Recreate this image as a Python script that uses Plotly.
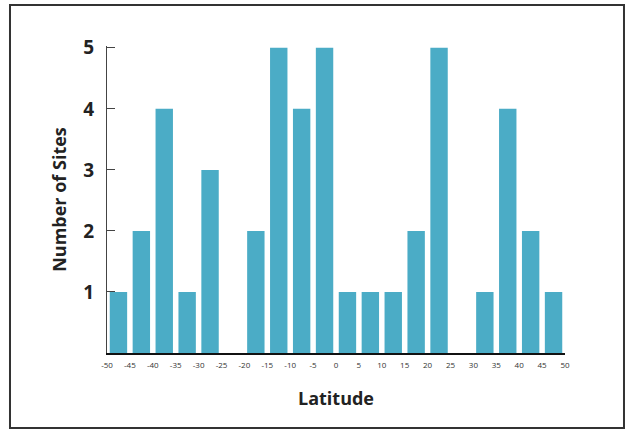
import plotly.graph_objects as go

# bin edges every 5 degrees, counts per bin
bin_starts = list(range(-50, 50, 5))
site_counts = [1, 2, 4, 1, 3, 0, 2, 5, 4, 5, 1, 1, 1, 2, 5, 0, 1, 4, 2, 1]
x_tick_vals = list(range(-50, 55, 5))
y_tick_vals = [1, 2, 3, 4, 5]

bar_color = "#4BACC6"
font_family = "Open Sans, Lato, sans-serif"

centers = [s + 2.5 for s in bin_starts]

fig = go.Figure()
fig.add_trace(
    go.Bar(
        x=centers,
        y=site_counts,
        width=3.8,
        marker=dict(color=bar_color, line=dict(width=0)),
        showlegend=False,
    )
)

fig.update_layout(
    width=626,
    height=432,
    margin=dict(l=107, r=61, t=46, b=79),
    paper_bgcolor="white",
    plot_bgcolor="white",
    font=dict(family=font_family, color="#222"),
    xaxis=dict(
        range=[-50, 50],
        tickvals=x_tick_vals,
        ticktext=[str(v) for v in x_tick_vals],
        tickfont=dict(size=8, color="#333"),
        showgrid=False,
        zeroline=False,
        showline=True,
        linecolor="#111",
        linewidth=2,
        ticks="",
        ticklabelstandoff=3,
        title=dict(text="<b>Latitude</b>", font=dict(size=18, color="#222"), standoff=24),
    ),
    yaxis=dict(
        range=[0, 5.03],
        tickvals=y_tick_vals,
        tickfont=dict(size=19, color="#222", weight="bold"),
        showgrid=False,
        zeroline=False,
        showline=True,
        linecolor="#444",
        linewidth=1,
        ticks="inside",
        ticklen=8,
        tickcolor="#444",
        ticklabelstandoff=8,
        title=dict(text="<b>Number of Sites</b>", font=dict(size=18, color="#222"), standoff=12),
    ),
    shapes=[
        dict(
            type="rect",
            xref="paper",
            yref="paper",
            x0=-0.2118,
            x1=1.1288,
            y0=-0.2443,
            y1=1.1336,
            line=dict(color="#333", width=2),
            fillcolor="rgba(0,0,0,0)",
            layer="below",
        )
    ],
)

# page body has a default margin; drop it so the figure sits at the window corner
fig.write_html(
    "out.html",
    config={"displayModeBar": False},
    post_script="document.body.style.margin='0';",
)
